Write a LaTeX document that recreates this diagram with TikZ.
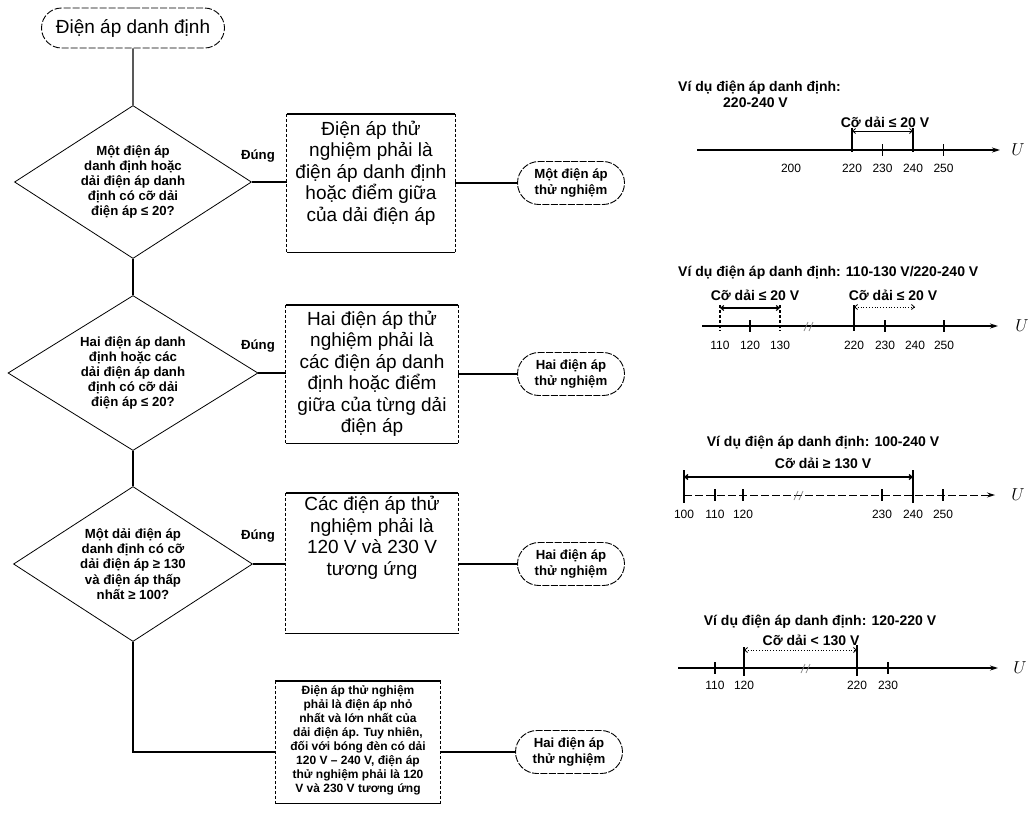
\documentclass[tikz,border=0pt]{standalone}
\usepackage{fontspec}
\setmainfont{Liberation Sans}
\usetikzlibrary{shapes.geometric,shapes.misc,arrows.meta,calc}
\newcommand{\myBig}{\fontsize{19}{21.5}\selectfont}
\newcommand{\mySmall}{\fontsize{13.2}{15.2}\selectfont\bfseries}
\newcommand{\myBoxF}{\fontsize{12}{14}\selectfont\bfseries}
\newcommand{\myTitle}{\fontsize{14}{16}\selectfont\bfseries}
\newcommand{\myNum}{\fontsize{12}{14}\selectfont}
\begin{document}
\begin{tikzpicture}[x=1pt,y=-1pt,
  conn/.style={line width=1.1pt},
  dia/.style={diamond,draw,line width=0.8pt,inner sep=0pt,aspect=1.53,align=center,font=\mySmall},
  box/.style={rectangle,inner sep=0pt},
  boxtxt/.style={align=center,font=\myBig,inner sep=0pt},
  term/.style={rounded rectangle,draw,line width=0.9pt,dash pattern=on 7pt off 1.5pt,minimum width=107pt,minimum height=43pt,inner sep=0pt,align=center,font=\mySmall},
  yes/.style={font=\mySmall,inner sep=0pt},
  axisline/.style={line width=1.4pt,-{Stealth[length=8pt,width=5pt]}},
  tick/.style={line width=1.2pt},
  bar/.style={line width=1.6pt},
  dim/.style={line width=0.8pt,{Straight Barb[length=3pt,width=5pt]}-{Straight Barb[length=3pt,width=5pt]}},
  num/.style={font=\myNum,inner sep=0pt},
  ttl/.style={font=\myTitle,inner sep=0pt},
  ulab/.style={font=\fontsize{17}{17}\selectfont,inner sep=0pt},
  brk/.style={line width=0.7pt,gray}]
\useasboundingbox (0,0) rectangle (1032,823);

% ---------------- flowchart ----------------
\node[rounded rectangle,draw,line width=0.9pt,dash pattern=on 7pt off 2pt,minimum width=183pt,minimum height=40pt,inner sep=0pt,font=\myBig] (start) at (133,28) {Điện áp danh định};

\node[dia,minimum width=237pt,minimum height=153pt] (d1) at (133,182) {Một điện áp\\danh định hoặc\\dải điện áp danh\\định có cỡ dải\\điện áp ≤ 20?};
\node[dia,minimum width=250pt,minimum height=155pt] (d2) at (133,373) {Hai điện áp danh\\định hoặc các\\dải điện áp danh\\định có cỡ dải\\điện áp ≤ 20?};
\node[dia,minimum width=239pt,minimum height=155pt] (d3) at (133,564) {Một dải điện áp\\danh định có cỡ\\dải điện áp ≥ 130\\và điện áp thấp\\nhất ≥ 100?};

\node[yes] (y1) at (258,156) {Đúng};
\node[yes] (y2) at (258,346) {Đúng};
\node[yes] (y3) at (258,536) {Đúng};

\node[box,minimum width=168pt,minimum height=138pt] (b1) at (371,183) {};
\node[box,minimum width=172pt,minimum height=138pt] (b2) at (372,374) {};
\node[box,minimum width=172pt,minimum height=140pt] (b3) at (372,563) {};
\node[box,minimum width=165pt,minimum height=122pt] (b4) at (358,742) {};
\foreach \b in {b1,b2,b3,b4}{
  \draw[line width=1.5pt] (\b.north west) -- (\b.north east);
  \draw[line width=1.2pt] (\b.south west) -- (\b.south east);
  \draw[line width=0.7pt,dash pattern=on 3pt off 2pt] (\b.north west) -- (\b.south west);
  \draw[line width=0.7pt,dash pattern=on 3pt off 2pt] (\b.north east) -- (\b.south east);
}
\node[boxtxt] (b1t) at (371,173) {Điện áp thử\\nghiệm phải là\\điện áp danh định\\hoặc điểm giữa\\của dải điện áp};
\node[boxtxt] (b2t) at (372,374) {Hai điện áp thử\\nghiệm phải là\\các điện áp danh\\định hoặc điểm\\giữa của từng dải\\điện áp};
\node[boxtxt] (b3t) at (372,538) {Các điện áp thử\\nghiệm phải là\\120 V và 230 V\\tương ứng};
\node[align=center,font=\myBoxF,inner sep=0pt] (b4t) at (358,740) {Điện áp thử nghiệm\\phải là điện áp nhỏ\\nhất và lớn nhất của\\dải điện áp. Tuy nhiên,\\đối với bóng đèn có dải\\120 V – 240 V, điện áp\\thử nghiệm phải là 120\\V và 230 V tương ứng};

\node[term] (t1) at (571,183) {Một điện áp\\thử nghiệm};
\node[term] (t2) at (571,374) {Hai điện áp\\thử nghiệm};
\node[term] (t3) at (571,564) {Hai điện áp\\thử nghiệm};
\node[term] (t4) at (569,752) {Hai điện áp\\thử nghiệm};

\coordinate (j4) at (133,752);
\draw[conn] (start) -- (d1);
\draw[conn] (d1) -- (d2);
\draw[conn] (d2) -- (d3);
\draw[conn] (d3.south) -- (j4) -- (j4 -| b4.west);
\draw[conn] (d1.east) -- (d1.east -| b1.west);
\draw[conn] (d2.east) -- (d2.east -| b2.west);
\draw[conn] (d3.east) -- (d3.east -| b3.west);
\draw[conn] (b1.east) -- (t1.west);
\draw[conn] (b2.east) -- (t2.west);
\draw[conn] (b3.east |- t3.west) -- (t3.west);
\draw[conn] (b4.east |- t4.west) -- (t4.west);

% ---------------- panel 1 ----------------
\node[ttl,anchor=west] (p1a) at (678,88) {Ví dụ điện áp danh định:};
\node[ttl,anchor=west] (p1b) at (723,103) {220-240 V};
\node[ttl] (p1c) at (885,122) {Cỡ dải ≤ 20 V};
\draw[axisline] (697,150) -- (1000,150);
\node[ulab] (p1u) at (1018,150) {$U$};
\draw[tick] (882.5,144) -- (882.5,156);
\draw[tick] (943.5,144) -- (943.5,156);
\draw[bar] (852,128) -- (852,152);
\draw[bar] (913,128) -- (913,152);
\draw[dim] (852,131) -- (913,131);
\node[num] (p1n200) at (791,168) {200};
\node[num] (p1n220) at (852,168) {220};
\node[num] (p1n230) at (882.5,168) {230};
\node[num] (p1n240) at (913,168) {240};
\node[num] (p1n250) at (943.5,168) {250};

% ---------------- panel 2 ----------------
\node[ttl,anchor=west] (p2a) at (678,273) {Ví dụ điện áp danh định: 110-130 V/220-240 V};
\node[ttl] (p2b) at (755,295) {Cỡ dải ≤ 20 V};
\node[ttl] (p2c) at (893,295) {Cỡ dải ≤ 20 V};
\draw[axisline] (702,326) -- (998,326);
\node[ulab] (p2u) at (1022,326) {$U$};
\draw[tick] (750,320) -- (750,332);
\draw[tick] (885,320) -- (885,332);
\draw[tick] (944,320) -- (944,332);
\draw[line width=1.2pt,dash pattern=on 3pt off 2pt] (720,305) -- (720,331);
\draw[line width=1.2pt,dash pattern=on 3pt off 2pt] (780,305) -- (780,331);
\draw[bar] (854,305) -- (854,331);
\draw[dim,line width=1.1pt] (720,308) -- (780,308);
\draw[dim,dotted] (854,307) -- (915,307);
\draw[brk] (804,331) -- (808,322);
\draw[brk] (809,331) -- (813,322);
\node[num] (p2n110) at (720,345) {110};
\node[num] (p2n120) at (750,345) {120};
\node[num] (p2n130) at (780,345) {130};
\node[num] (p2n220) at (854,345) {220};
\node[num] (p2n230) at (885,345) {230};
\node[num] (p2n240) at (915,345) {240};
\node[num] (p2n250) at (944,345) {250};

% ---------------- panel 3 ----------------
\node[ttl] (p3a) at (823,443) {Ví dụ điện áp danh định: 100-240 V};
\node[ttl] (p3b) at (823,463) {Cỡ dải ≥ 130 V};
\draw[axisline,line width=1pt,dash pattern=on 8pt off 3pt] (684,495) -- (995,495);
\node[ulab] (p3u) at (1018,495) {$U$};
\draw[tick] (715,489) -- (715,501);
\draw[tick] (743,489) -- (743,501);
\draw[tick] (882,489) -- (882,501);
\draw[tick] (943,489) -- (943,501);
\draw[bar] (684,470) -- (684,503);
\draw[bar] (913,470) -- (913,503);
\draw[dim,line width=1.3pt] (684,477) -- (913,477);
\draw[brk] (794,500) -- (798,491);
\draw[brk] (799,500) -- (803,491);
\node[num] (p3n100) at (684,514) {100};
\node[num] (p3n110) at (715,514) {110};
\node[num] (p3n120) at (743,514) {120};
\node[num] (p3n230) at (882,514) {230};
\node[num] (p3n240) at (913,514) {240};
\node[num] (p3n250) at (943,514) {250};

% ---------------- panel 4 ----------------
\node[ttl] (p4a) at (820,622) {Ví dụ điện áp danh định: 120-220 V};
\node[ttl] (p4b) at (811,640) {Cỡ dải < 130 V};
\draw[axisline] (678,668) -- (998,668);
\node[ulab] (p4u) at (1020,668) {$U$};
\draw[tick] (715,662) -- (715,674);
\draw[tick] (888,662) -- (888,674);
\draw[tick] (744,647) -- (744,676);
\draw[bar] (857,645) -- (857,676);
\draw[dim,dotted] (744,650) -- (857,650);
\draw[brk] (801,673) -- (805,664);
\draw[brk] (806,673) -- (810,664);
\node[num] (p4n110) at (715,685) {110};
\node[num] (p4n120) at (744,685) {120};
\node[num] (p4n220) at (857,685) {220};
\node[num] (p4n230) at (888,685) {230};
\end{tikzpicture}
\end{document}
